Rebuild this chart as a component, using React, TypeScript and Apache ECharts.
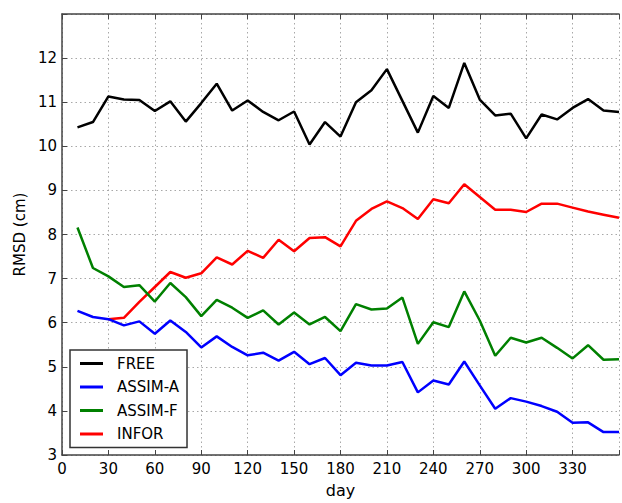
import React, { useEffect, useRef } from "react";
import * as echarts from "echarts";

const days = [10, 20, 30, 40, 50, 60, 70, 80, 90, 100, 110, 120, 130, 140, 150, 160, 170, 180, 190, 200, 210, 220, 230, 240, 250, 260, 270, 280, 290, 300, 310, 320, 330, 340, 350, 360];

const free = [10.43, 10.55, 11.13, 11.06, 11.05, 10.8, 11.02, 10.56, 10.98, 11.42, 10.81, 11.04, 10.78, 10.59, 10.79, 10.04, 10.55, 10.22, 11.0, 11.27, 11.75, 11.03, 10.31, 11.14, 10.87, 11.89, 11.06, 10.7, 10.74, 10.18, 10.72, 10.61, 10.87, 11.07, 10.81, 10.78];

const assimA = [6.27, 6.13, 6.08, 5.94, 6.03, 5.75, 6.05, 5.79, 5.44, 5.69, 5.45, 5.26, 5.32, 5.14, 5.34, 5.06, 5.2, 4.81, 5.09, 5.03, 5.03, 5.11, 4.42, 4.69, 4.6, 5.12, 4.58, 4.05, 4.29, 4.21, 4.11, 3.98, 3.73, 3.74, 3.52, 3.52];

const assimF = [8.16, 7.24, 7.05, 6.81, 6.85, 6.48, 6.9, 6.58, 6.15, 6.52, 6.34, 6.11, 6.28, 5.96, 6.23, 5.96, 6.13, 5.81, 6.42, 6.3, 6.32, 6.57, 5.52, 6.01, 5.9, 6.71, 6.05, 5.25, 5.66, 5.55, 5.66, 5.43, 5.19, 5.49, 5.16, 5.17];

const infor = [null, null, 6.08, 6.11, 6.47, 6.81, 7.15, 7.02, 7.12, 7.48, 7.32, 7.63, 7.47, 7.88, 7.62, 7.92, 7.94, 7.73, 8.31, 8.58, 8.75, 8.6, 8.35, 8.8, 8.71, 9.14, 8.85, 8.56, 8.56, 8.51, 8.7, 8.7, 8.61, 8.52, 8.45, 8.38];

const seriesNames = ["FREE", "ASSIM-A", "ASSIM-F", "INFOR"];
const seriesColors = ["#000000", "#0000ff", "#008000", "#ff0000"];
const seriesValues = [free, assimA, assimF, infor];

const FONT = "DejaVu Sans";

export default function App() {
  const ref = useRef<HTMLDivElement>(null);
  useEffect(() => {
    if (!ref.current) return;
    const chart = echarts.init(ref.current, null, { renderer: "svg" });
    const gridLine = { show: true, lineStyle: { color: "#a8a8a8", width: 1, type: [1.5, 3] as any } };
    chart.setOption({
      animation: false,
      backgroundColor: "#ffffff",
      textStyle: { fontFamily: FONT },
      grid: { left: 62, top: 14, right: -10.7, bottom: 46, containLabel: false },
      legend: {
        orient: "vertical",
        left: 70,
        top: 350,
        data: seriesNames.map((n) => ({ name: n, icon: "rect" })),
        itemWidth: 23,
        itemHeight: 3,
        itemGap: 8.5,
        padding: [6, 8, 6, 10],
        borderColor: "#333",
        borderWidth: 1.5,
        backgroundColor: "#fff",
        textStyle: { fontFamily: FONT, fontSize: 15, color: "#000", padding: [0, 0, 0, 9] },
      },
      xAxis: [
        {
          type: "value",
          min: 0,
          max: 360,
          interval: 30,
          name: "day",
          nameLocation: "middle",
          nameGap: 27,
          nameTextStyle: { fontFamily: FONT, fontSize: 16, color: "#000" },
          axisLine: { show: true, lineStyle: { color: "#444", width: 1.5 } },
          axisTick: { show: true, inside: true, length: 5, lineStyle: { color: "#444" } },
          axisLabel: {
            fontFamily: FONT,
            fontSize: 15,
            color: "#000",
            margin: 6,
            formatter: (v: number) => (v >= 360 ? "" : String(v)),
          },
          splitLine: gridLine,
        },
        {
          type: "value",
          position: "top",
          min: 0,
          max: 360,
          interval: 30,
          axisLine: { show: true, lineStyle: { color: "#444", width: 1.5 } },
          axisTick: { show: true, inside: true, length: 5, lineStyle: { color: "#444" } },
          axisLabel: { show: false },
          splitLine: { show: false },
        },
      ],
      yAxis: {
        type: "value",
        min: 3,
        max: 13,
        interval: 1,
        name: "RMSD (cm)",
        nameLocation: "middle",
        nameGap: 33,
        nameTextStyle: { fontFamily: FONT, fontSize: 15, color: "#000" },
        axisLine: { show: true, lineStyle: { color: "#444", width: 1.5 } },
        axisTick: { show: true, inside: true, length: 5, lineStyle: { color: "#444" } },
        axisLabel: {
          fontFamily: FONT,
          fontSize: 15,
          color: "#000",
          margin: 5,
          formatter: (v: number) => (v >= 13 ? "" : String(v)),
        },
        splitLine: gridLine,
      },
      series: seriesNames.map((name, i) => ({
        name,
        type: "line",
        xAxisIndex: 0,
        data: days.map((d, j) => [d, seriesValues[i][j]]),
        showSymbol: false,
        symbol: "none",
        lineStyle: { color: seriesColors[i], width: 2.5 },
        itemStyle: { color: seriesColors[i] },
        connectNulls: false,
        z: 10 - i,
      })),
    });
    return () => chart.dispose();
  }, []);
  return (
    <div
      ref={ref}
      style={{ position: "fixed", left: 0, top: 0, width: 622, height: 503, background: "#fff" }}
    />
  );
}
